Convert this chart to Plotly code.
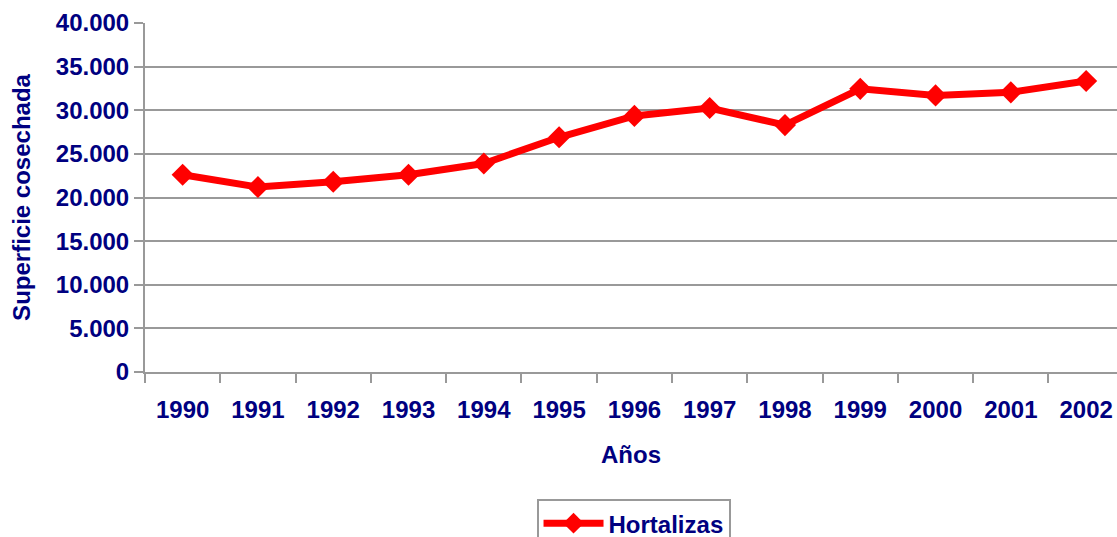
import plotly.graph_objects as go

years = ["1990", "1991", "1992", "1993", "1994", "1995", "1996",
         "1997", "1998", "1999", "2000", "2001", "2002"]
hortalizas = [22600, 21200, 21800, 22600, 23900, 26900, 29350,
              30250, 28300, 32450, 31700, 32050, 33350]
y_ticks = [0, 5000, 10000, 15000, 20000, 25000, 30000, 35000, 40000]

NAVY = "#000080"
GRID = "#999999"
FONT = "Liberation Sans, Arial, sans-serif"
FS = 24

fig = go.Figure()
fig.add_trace(go.Scatter(
    x=years, y=hortalizas, name="Hortalizas", mode="lines+markers",
    line=dict(color="#FF0000", width=7),
    marker=dict(symbol="diamond", size=17, color="#FF0000"),
))

fig.update_layout(
    width=1117, height=537,
    margin=dict(l=145, r=0, t=23, b=165, autoexpand=False),
    paper_bgcolor="white", plot_bgcolor="white",
    separators=",.",
    font=dict(family=FONT, size=FS, color=NAVY, weight="bold"),
    showlegend=True,
    legend=dict(
        orientation="h", x=0.5026, xanchor="center", y=-0.364, yanchor="top",
        bordercolor=GRID, borderwidth=2, bgcolor="white",
        font=dict(family=FONT, size=FS, color=NAVY, weight="bold"),
        itemwidth=60,
    ),
    xaxis=dict(
        type="category", range=[-0.5, 12.41], automargin=False,
        showline=True, linecolor=GRID, linewidth=2,
        ticks="outside", ticklen=9, tickwidth=2, tickcolor=GRID,
        tickson="boundaries", showgrid=False, ticklabelstandoff=15,
        tickfont=dict(family=FONT, size=FS, color=NAVY, weight="bold"),
        title=dict(text="Años", standoff=24,
                   font=dict(family=FONT, size=FS, color=NAVY, weight="bold")),
    ),
    yaxis=dict(
        range=[0, 40000], tickvals=y_ticks, tickformat=",d", automargin=False,
        showline=True, linecolor=GRID, linewidth=2,
        ticks="outside", ticklen=9, tickwidth=2, tickcolor=GRID,
        showgrid=True, gridcolor=GRID, gridwidth=2,
        zeroline=False,
        tickfont=dict(family=FONT, size=FS, color=NAVY, weight="bold"),
        title=dict(text="Superficie cosechada", standoff=18,
                   font=dict(family=FONT, size=FS, color=NAVY, weight="bold")),
    ),
)

fig.write_html(
    "out.html",
    config={"displayModeBar": False},
    post_script="document.body.style.margin='0';document.body.style.overflow='hidden';",
)
